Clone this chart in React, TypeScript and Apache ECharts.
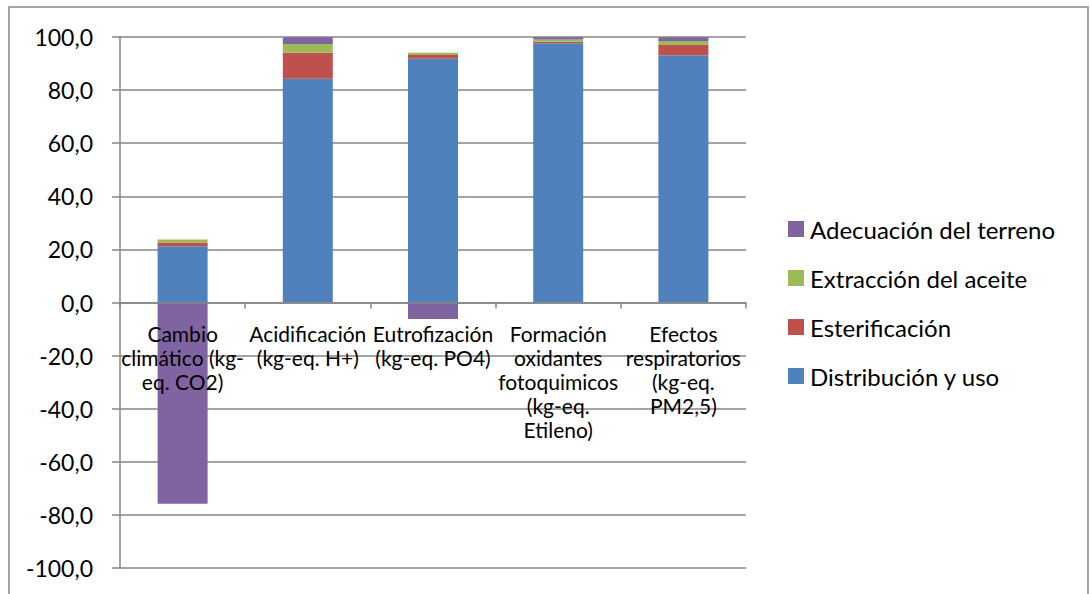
import React, { useEffect, useRef } from "react";
import * as echarts from "echarts";

const categories = [
  "Cambio\nclimático (kg-\neq. CO2)",
  "Acidificación\n(kg-eq. H+)",
  "Eutrofización\n(kg-eq. PO4)",
  "Formación\noxidantes\nfotoquimicos\n(kg-eq.\nEtileno)",
  "Efectos\nrespiratorios\n(kg-eq.\nPM2,5)",
];
const distribucion = [21.2, 84.3, 91.8, 97.6, 93.1];
const esterificacion = [1.4, 9.8, 1.4, 0.6, 3.9];
const extraccion = [1.1, 3.3, 0.9, 0.9, 1.5];
const adecuacion = [-75.8, 2.5, -6.2, 0.8, 1.4];

const FONT = "Lato, 'Open Sans', sans-serif";

export default function App() {
  const ref = useRef<HTMLDivElement>(null);
  useEffect(() => {
    if (!ref.current) return;
    const chart = echarts.init(ref.current, undefined, { renderer: "svg" });
    const mk = (name: string, data: number[], color: string) => ({
      name,
      type: "bar",
      stack: "total",
      data,
      barWidth: 50,
      itemStyle: { color },
    });
    chart.setOption({
      animation: false,
      backgroundColor: "#fff",
      textStyle: { fontFamily: FONT },
      graphic: [
        {
          type: "rect",
          shape: { x: 9, y: 7, width: 1079, height: 600 },
          style: { fill: "none", stroke: "#868686", lineWidth: 1.5 },
          silent: true,
        },
      ],
      grid: { left: 120, right: 344, top: 37, bottom: 26, outerBoundsMode: "none", containLabel: false },
      legend: {
        orient: "vertical",
        left: 783,
        top: 212,
        itemWidth: 16,
        itemHeight: 16,
        itemGap: 25,
        icon: "rect",
        data: ["Adecuación del terreno", "Extracción del aceite", "Esterificación", "Distribución y uso"],
        textStyle: { fontSize: 24, lineHeight: 24, color: "#000", fontFamily: FONT, padding: [0, 0, 0, 1] },
      },
      xAxis: {
        type: "category",
        data: categories,
        z: 5,
        axisLine: { onZero: true, lineStyle: { color: "#868686", width: 1.5 } },
        axisTick: { show: true, length: 6, alignWithLabel: false, lineStyle: { color: "#868686", width: 1.5 } },
        axisLabel: {
          interval: 0,
          fontSize: 21,
          lineHeight: 24,
          color: "#000",
          fontFamily: FONT,
          margin: -247,
        },
      },
      yAxis: {
        type: "value",
        min: -100,
        max: 100,
        interval: 20,
        axisLine: { show: true, lineStyle: { color: "#868686", width: 1.5 } },
        axisTick: { show: true, length: 8, lineStyle: { color: "#868686", width: 1.5 } },
        splitLine: { lineStyle: { color: "#868686", width: 1.5 } },
        axisLabel: {
          fontSize: 23,
          color: "#000",
          fontFamily: FONT,
          margin: 27,
          formatter: (v: number) => v.toFixed(1).replace(".", ","),
        },
      },
      series: [
        mk("Distribución y uso", distribucion, "#4F81BD"),
        mk("Esterificación", esterificacion, "#C0504D"),
        mk("Extracción del aceite", extraccion, "#9BBB59"),
        mk("Adecuación del terreno", adecuacion, "#8064A2"),
      ],
    });
    return () => chart.dispose();
  }, []);
  return (
    <div
      ref={ref}
      style={{ position: "absolute", left: 0, top: 0, width: 1090, height: 594 }}
    />
  );
}
